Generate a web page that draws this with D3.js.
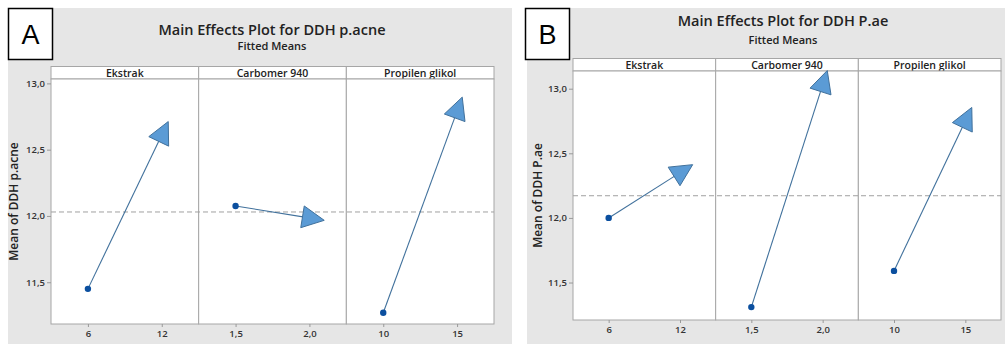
<!DOCTYPE html>
<html>
<head>
<meta charset="utf-8">
<script src="https://cdn.jsdelivr.net/npm/d3@7"></script>
<style>
  body { margin: 0; background: #fff; }
  text { font-family: "Open Sans", "Noto Sans", sans-serif; }
</style>
</head>
<body>
<div class="chartDiv"></div>
<script>
// Main effects plots (two panels)

const factors = ["Ekstrak", "Carbomer 940", "Propilen glikol"];
const levels = [["6", "12"], ["1,5", "2,0"], ["10", "15"]];
const yTicks = [11.5, 12.0, 12.5, 13.0];

// fitted means per factor, low level then high level
const meansA = [[11.45, 12.61], [12.075, 11.985], [11.27, 12.79]];
const meansB = [[12.0, 12.35], [11.31, 13.03], [11.59, 12.75]];

const titleA = "Main Effects Plot for DDH p.acne";
const titleB = "Main Effects Plot for DDH P.ae";
const yLabelA = "Mean of DDH p.acne";
const yLabelB = "Mean of DDH P.ae";

const commaFmt = d3.formatLocale({decimal: ",", thousands: ".", grouping: [3], currency: ["", ""]}).format(".1f");

let svg = d3.select('.chartDiv')
            .append('svg')
            .attr('width', 1005)
            .attr('height', 344);

let drawPanel = (p) => {
  let g = svg.append('g');

  // grey background
  g.append('rect')
   .attr('x', p.bgX).attr('y', 8)
   .attr('width', p.bgW).attr('height', 336)
   .attr('fill', '#e6e6e6');

  // titles
  g.append('text')
   .attr('x', p.titleX).attr('y', p.titleY)
   .attr('text-anchor', 'middle')
   .attr('font-size', 14.5).attr('font-weight', 600).attr('fill', '#222')
   .text(p.title);
  g.append('text')
   .attr('x', p.titleX).attr('y', p.titleY + p.subGap)
   .attr('text-anchor', 'middle')
   .attr('font-size', 11).attr('font-weight', 600).attr('fill', '#222')
   .text("Fitted Means");

  let yScale = d3.scaleLinear()
                 .domain(p.yDomain)
                 .range([p.bottom, p.top]);

  let bandX = d3.scaleBand()
                .domain(factors)
                .range([p.left, p.right]);

  // header strips + plot cells
  factors.forEach((f, i) => {
    let x0 = bandX(f), w = bandX.bandwidth();
    g.append('rect')
     .attr('x', x0).attr('y', p.top - 12.5)
     .attr('width', w).attr('height', 12.5)
     .attr('fill', '#fff').attr('stroke', '#a6a6a6');
    g.append('text')
     .attr('x', x0 + w / 2).attr('y', p.top - 2.5)
     .attr('text-anchor', 'middle')
     .attr('font-size', 10.5).attr('font-weight', 600).attr('fill', '#222')
     .text(f);
    g.append('rect')
     .attr('x', x0).attr('y', p.top)
     .attr('width', w).attr('height', p.bottom - p.top)
     .attr('fill', '#fff').attr('stroke', '#a6a6a6');
  });

  // y axis
  let leftaxis = d3.axisLeft(yScale).tickValues(yTicks).tickFormat(commaFmt).tickSize(4).tickPadding(2);
  let ya = g.append('g')
            .attr('transform', `translate(${p.left}, 0)`)
            .call(leftaxis);
  ya.select('.domain').remove();
  ya.selectAll('line').attr('stroke', '#999');
  ya.selectAll('text').attr('font-size', 9.5).attr('font-weight', 600).attr('fill', '#333')
    .style('font-family', '"Open Sans", sans-serif');

  g.append('text')
   .attr('transform', `translate(${p.yLabelX}, ${(p.top + p.bottom) / 2}) rotate(-90)`)
   .attr('text-anchor', 'middle')
   .attr('font-size', 12).attr('font-weight', 600).attr('fill', '#222')
   .text(p.yLabel);

  // grand mean reference line
  let grand = d3.mean(p.means.flat());
  g.append('line')
   .attr('x1', p.left).attr('x2', p.right)
   .attr('y1', yScale(grand)).attr('y2', yScale(grand))
   .attr('stroke', '#a0a0a0').attr('stroke-dasharray', '5,3');

  // each factor: x axis, line, point, arrowhead
  factors.forEach((f, i) => {
    let xScale = d3.scalePoint()
                   .domain(levels[i])
                   .range([bandX(f), bandX(f) + bandX.bandwidth()])
                   .padding(0.5);

    let bottomaxis = d3.axisBottom(xScale).tickSize(3).tickPadding(3);
    let xa = g.append('g')
              .attr('transform', `translate(0, ${p.bottom})`)
              .call(bottomaxis);
    xa.select('.domain').remove();
    xa.selectAll('line').attr('stroke', '#999');
    xa.selectAll('text').attr('font-size', 9.5).attr('font-weight', 600).attr('fill', '#333')
      .style('font-family', '"Open Sans", sans-serif');

    let pts = levels[i].map((lv, j) => [xScale(lv), yScale(p.means[i][j])]);
    let [a, b] = pts;
    let dx = b[0] - a[0], dy = b[1] - a[1];
    let len = Math.hypot(dx, dy);
    let ux = dx / len, uy = dy / len;
    let nx = -uy, ny = ux;

    g.append('line')
     .attr('x1', a[0]).attr('y1', a[1])
     .attr('x2', b[0] - ux * 5).attr('y2', b[1] - uy * 5)
     .attr('stroke', '#41719c').attr('stroke-width', 1.1);

    g.append('circle')
     .attr('cx', a[0]).attr('cy', a[1]).attr('r', 3.2)
     .attr('fill', '#0b4f9f');

    let apex = [b[0] + ux * 15, b[1] + uy * 15];
    let base = [b[0] - ux * 7, b[1] - uy * 7];
    let head = [apex,
                [base[0] + nx * 11, base[1] + ny * 11],
                [base[0] - nx * 11, base[1] - ny * 11]];
    g.append('path')
     .attr('d', d3.line()(head) + 'Z')
     .attr('fill', '#5b9bd5').attr('stroke', '#41719c').attr('stroke-width', 1);
  });

  // panel letter box
  g.append('rect')
   .attr('x', p.boxX).attr('y', 8.5)
   .attr('width', 44).attr('height', 51)
   .attr('fill', '#fff').attr('stroke', '#000').attr('stroke-width', 1.5);
  g.append('text')
   .attr('x', p.boxX + 22).attr('y', 44)
   .attr('text-anchor', 'middle')
   .attr('font-size', 27).attr('fill', '#000')
   .style('font-family', '"Liberation Sans", Arial, sans-serif')
   .text(p.letter);
};

drawPanel({
  letter: "A", boxX: 8.5, bgX: 8, bgW: 504,
  title: titleA, titleX: 272, titleY: 35, subGap: 15,
  yLabel: yLabelA, yLabelX: 18,
  means: meansA,
  left: 51, right: 494, top: 79, bottom: 324,
  yDomain: [11.185, 13.033]
});

drawPanel({
  letter: "B", boxX: 525.5, bgX: 527, bgW: 478,
  title: titleB, titleX: 783, titleY: 26, subGap: 18,
  yLabel: yLabelB, yLabelX: 542,
  means: meansB,
  left: 573, right: 1001, top: 71, bottom: 320,
  yDomain: [11.21, 13.137]
});
</script>
</body>
</html>
